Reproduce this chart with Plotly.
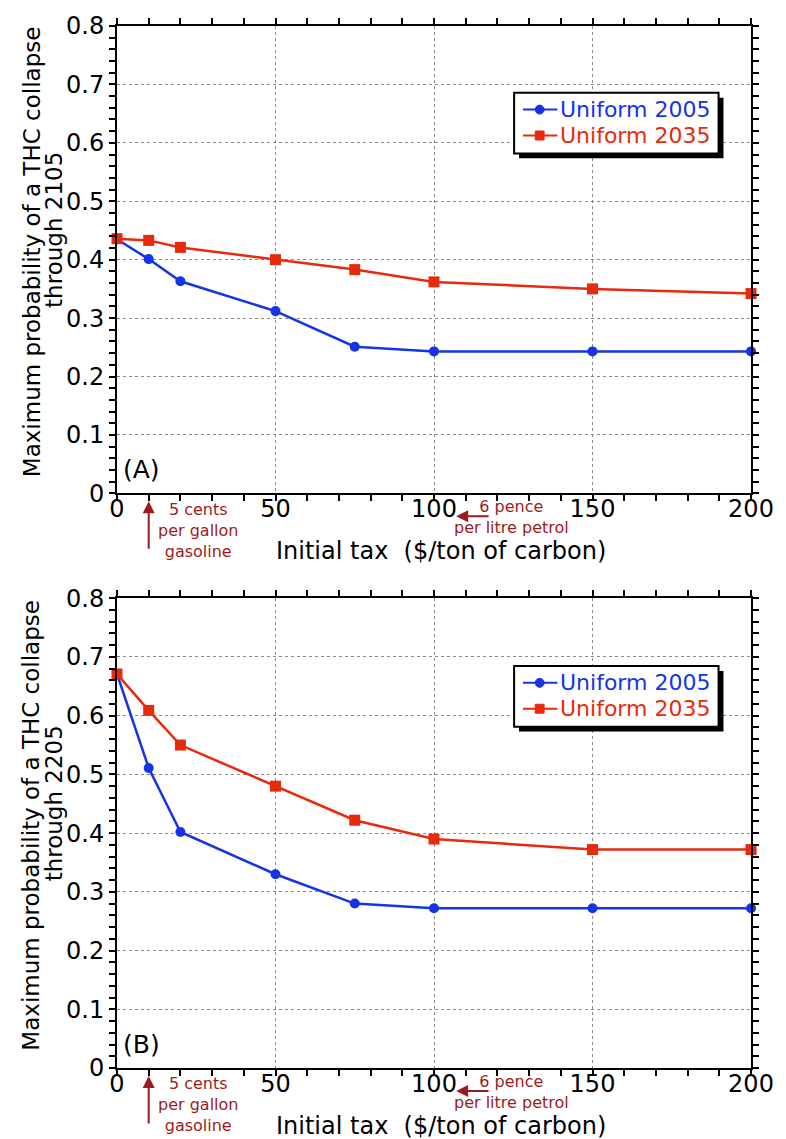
import plotly.graph_objects as go

# Initial carbon tax levels ($/ton of carbon)
tax = [0, 10, 20, 50, 75, 100, 150, 200]

# Panel A: maximum probability of a THC collapse through 2105
a_uniform_2005 = [0.435, 0.401, 0.363, 0.312, 0.251, 0.243, 0.243, 0.243]
a_uniform_2035 = [0.436, 0.433, 0.421, 0.400, 0.383, 0.362, 0.350, 0.342]

# Panel B: maximum probability of a THC collapse through 2205
b_uniform_2005 = [0.671, 0.511, 0.402, 0.330, 0.280, 0.272, 0.272, 0.272]
b_uniform_2035 = [0.671, 0.609, 0.550, 0.480, 0.422, 0.390, 0.372, 0.372]

series_names = ["Uniform 2005", "Uniform 2035"]
panel_tags = ["(A)", "(B)"]
horizon_years = ["2105", "2205"]
x_labels = {0: "0", 50: "50", 100: "100", 150: "150", 200: "200"}
y_labels = {0: "0", 10: "0.1", 20: "0.2", 30: "0.3", 40: "0.4",
            50: "0.5", 60: "0.6", 70: "0.7", 80: "0.8"}  # keyed in hundredths

BLUE = "#1434e6"
RED = "#e82a0c"
DARK_RED = "#9b1c1c"
FONT = "DejaVu Sans"

W, H = 786, 1139
L, R, T, B = 117, 24, 21, 71
PW = W - L - R
PH = H - T - B


def px(xp):
    return (xp - L) / PW


def py(yp):
    return (H - B - yp) / PH


# tick positions: every 10 $/t on x, every 0.02 on y; labels only on the majors
x_tickvals = list(range(0, 201, 10))
x_ticktext = [x_labels.get(v, "") for v in x_tickvals]
y_tickvals = [v / 100 for v in range(0, 81, 2)]
y_ticktext = [y_labels.get(v, "") for v in range(0, 81, 2)]

fig = go.Figure()

panels = [
    ("x", "y", a_uniform_2005, a_uniform_2035),
    ("x2", "y2", b_uniform_2005, b_uniform_2035),
]

for xr, yr, s05, s35 in panels:
    fig.add_trace(go.Scatter(
        x=tax, y=s05, xaxis=xr, yaxis=yr, mode="lines+markers",
        name=series_names[0], showlegend=False,
        line=dict(color=BLUE, width=2.5),
        marker=dict(symbol="circle", size=10, color=BLUE),
        cliponaxis=False,
    ))
    fig.add_trace(go.Scatter(
        x=tax, y=s35, xaxis=xr, yaxis=yr, mode="lines+markers",
        name=series_names[1], showlegend=False,
        line=dict(color=RED, width=2.5),
        marker=dict(symbol="square", size=11, color=RED),
        cliponaxis=False,
    ))

axis_common = dict(
    showline=True, linecolor="black", linewidth=2, mirror="ticks",
    ticks="outside", ticklen=6, tickwidth=1.5, tickcolor="black",
    showgrid=False, zeroline=False, tickmode="array",
    tickfont=dict(family=FONT, size=24, color="black"),
)
x_common = dict(
    axis_common, range=[0, 200], tickvals=x_tickvals, ticktext=x_ticktext,
    ticklabelstandoff=-13,
    minor=dict(tickmode="array", tickvals=[50, 100, 150], ticks="", showgrid=True,
               gridcolor="#8a8a8a", griddash="dot", gridwidth=1),
)
y_common = dict(
    axis_common, range=[0, 0.8], tickvals=y_tickvals, ticktext=y_ticktext,
    minor=dict(tickmode="array", tickvals=[0.1, 0.2, 0.3, 0.4, 0.5, 0.6, 0.7], ticks="",
               showgrid=True, gridcolor="#8a8a8a", griddash="dot", gridwidth=1),
)

top_dom = [py(490.6), py(21)]
bot_dom = [py(1068), py(596)]

fig.update_layout(
    width=W, height=H,
    margin=dict(l=L, r=R, t=T, b=B),
    paper_bgcolor="white", plot_bgcolor="white",
    font=dict(family=FONT, color="black"),
    xaxis=dict(x_common, anchor="y"),
    yaxis=dict(y_common, domain=top_dom, anchor="x"),
    xaxis2=dict(x_common, anchor="y2"),
    yaxis2=dict(y_common, domain=bot_dom, anchor="x2"),
)

annotations = []
shapes = []

for i, base in enumerate([490.6, 1068.0]):
    top = 21.0 if i == 0 else 596.0
    mid = (top + base) / 2
    xr = "x" if i == 0 else "x2"

    # y-axis title, two lines with tight leading
    annotations.append(dict(
        xref="paper", yref="paper", x=px(30), y=py(mid - 8),
        text="Maximum probability of a THC collapse", showarrow=False,
        textangle=-90, font=dict(family=FONT, size=23, color="black"),
        xanchor="center", yanchor="middle",
    ))
    annotations.append(dict(
        xref="paper", yref="paper", x=px(53), y=py(mid - 30),
        text="through " + horizon_years[i], showarrow=False,
        textangle=-90, font=dict(family=FONT, size=23, color="black"),
        xanchor="center", yanchor="middle",
    ))

    # x-axis title
    annotations.append(dict(
        xref="paper", yref="paper", x=px(447), y=py(base + 58),
        text="Initial tax \u00a0($/ton of carbon)", showarrow=False,
        font=dict(family=FONT, size=24, color="black"),
        xanchor="center", yanchor="middle",
    ))

    # panel tag
    annotations.append(dict(
        xref="paper", yref="paper", x=px(121), y=py(base - 24),
        text=panel_tags[i], showarrow=False,
        font=dict(family=FONT, size=25, color="black"),
        xanchor="left", yanchor="middle",
    ))

    # 5 cents per gallon marker
    annotations.append(dict(
        xref=xr, yref="paper", x=10, y=py(base + 8),
        ax=0, ay=49, axref="pixel", ayref="pixel",
        text="", showarrow=True, arrowhead=2, arrowsize=1.2, arrowwidth=2,
        arrowcolor=DARK_RED,
    ))
    annotations.append(dict(
        xref="paper", yref="paper", x=px(199), y=py(base + 37),
        text="5 cents<br>per gallon<br>gasoline", showarrow=False, align="center",
        font=dict(family=FONT, size=16, color=DARK_RED),
        xanchor="center", yanchor="middle",
    ))

    # 6 pence per litre marker
    annotations.append(dict(
        xref="paper", yref="paper", x=px(462), y=py(base + 23),
        ax=34, ay=0, axref="pixel", ayref="pixel",
        text="", showarrow=True, arrowhead=2, arrowsize=1.2, arrowwidth=2,
        arrowcolor=DARK_RED,
    ))
    annotations.append(dict(
        xref="paper", yref="paper", x=px(518), y=py(base + 24),
        text="6 pence<br>per litre petrol", showarrow=False, align="center",
        font=dict(family=FONT, size=16, color=DARK_RED),
        xanchor="center", yanchor="middle",
    ))

    # legend box with drop shadow
    bx0, bx1 = 521, 729
    by0 = 88 if i == 0 else 664
    by1 = by0 + 61
    shapes.append(dict(type="rect", xref="paper", yref="paper",
                       x0=px(bx0 + 5), x1=px(bx1 + 5), y0=py(by1 + 5), y1=py(by0 + 5),
                       fillcolor="black", line=dict(width=0), layer="above"))
    shapes.append(dict(type="rect", xref="paper", yref="paper",
                       x0=px(bx0), x1=px(bx1), y0=py(by1), y1=py(by0),
                       fillcolor="white", line=dict(color="black", width=2), layer="above"))
    for k, (name, color, sym) in enumerate(zip(series_names, [BLUE, RED], ["circle", "rect"])):
        ly = by0 + 17 + 26 * k
        shapes.append(dict(type="line", xref="paper", yref="paper",
                           x0=px(530), x1=px(565), y0=py(ly), y1=py(ly),
                           line=dict(color=color, width=2), layer="above"))
        r = 4.5
        shapes.append(dict(type=sym, xref="paper", yref="paper",
                           x0=px(547 - r), x1=px(547 + r), y0=py(ly + r), y1=py(ly - r),
                           fillcolor=color, line=dict(color=color, width=1), layer="above"))
        annotations.append(dict(
            xref="paper", yref="paper", x=px(566), y=py(ly),
            text=name, showarrow=False,
            font=dict(family=FONT, size=22, color=color),
            xanchor="left", yanchor="middle",
        ))

fig.update_layout(annotations=annotations, shapes=shapes)

fig.write_html("out.html")
